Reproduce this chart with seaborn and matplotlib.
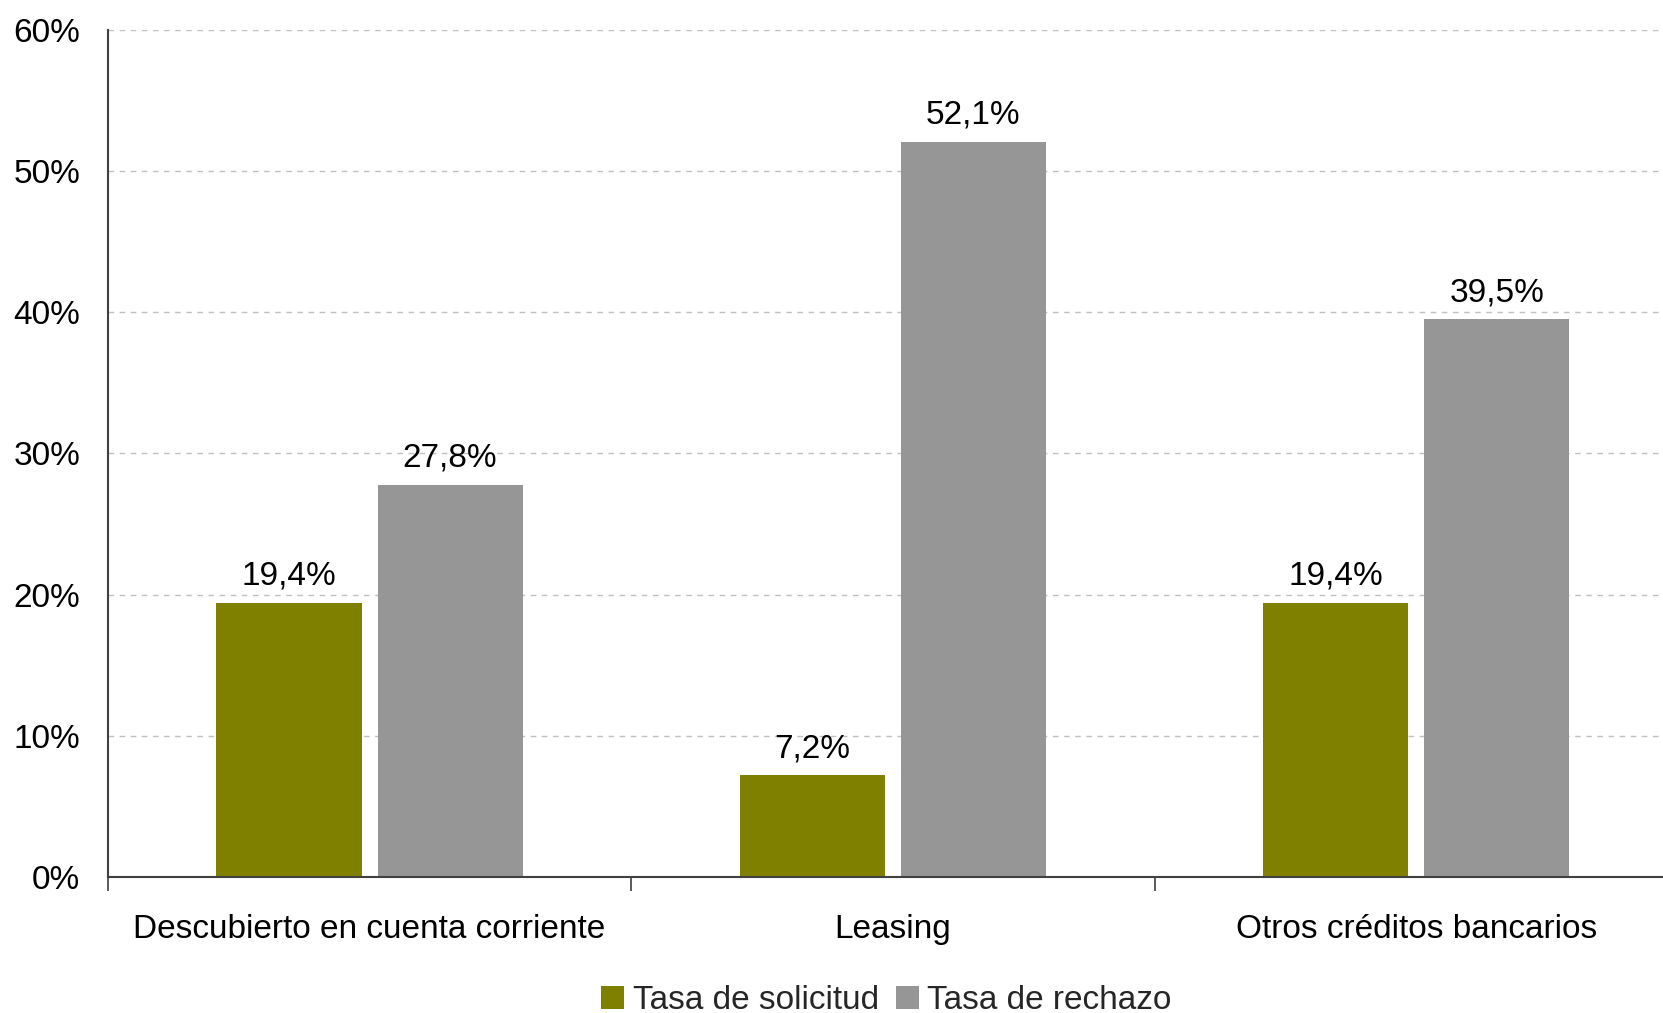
import matplotlib
matplotlib.use("Agg")
import matplotlib.pyplot as plt
import seaborn as sns
import pandas as pd
from matplotlib.ticker import FuncFormatter, FixedLocator

categories = ["Descubierto en cuenta corriente", "Leasing", "Otros créditos bancarios"]
series = ["Tasa de solicitud", "Tasa de rechazo"]
solicitud = [19.4, 7.2, 19.4]
rechazo = [27.8, 52.1, 39.5]
yticks = [0, 10, 20, 30, 40, 50, 60]

colors = ["#808000", "#969696"]

sns.set_theme(style="white")
plt.rcParams["font.family"] = ["Liberation Sans", "DejaVu Sans"]

df = pd.DataFrame({
    "cat": categories * 2,
    "serie": [series[0]] * 3 + [series[1]] * 3,
    "val": solicitud + rechazo,
})

fig = plt.figure(figsize=(16.63, 10.13), dpi=100)
ax = fig.add_axes([0.0649, 0.1343, 0.944, 0.8361])

sns.barplot(data=df, x="cat", y="val", hue="serie", order=categories,
            hue_order=series, palette=colors, width=0.616, gap=0.1,
            saturation=1, ax=ax, legend=True, linewidth=0)

ax.set_ylim(0, 60)
ax.set_xlim(-0.5, 2.5)
ax.set_yticks(yticks)
ax.yaxis.set_major_formatter(FuncFormatter(lambda v, p: f"{int(v)}%"))
ax.grid(axis="y", color="#c0c0c0", linestyle=(0, (4, 4)), linewidth=1.0)
ax.set_axisbelow(True)
for s in ["top", "right"]:
    ax.spines[s].set_visible(False)
for s in ["left", "bottom"]:
    ax.spines[s].set_color("#404040")
    ax.spines[s].set_linewidth(1.5)

ax.tick_params(axis="y", length=0, pad=20, labelsize=24, labelcolor="black")
ax.tick_params(axis="x", which="major", length=0, pad=27, labelsize=24, labelcolor="black")
ax.xaxis.set_minor_locator(FixedLocator([-0.5, 0.5, 1.5]))
ax.tick_params(axis="x", which="minor", bottom=True, length=10, width=1.2,
               color="#404040", direction="out")
ax.set_xlabel("")
ax.set_ylabel("")

for cont in ax.containers:
    labels = [f"{v:.1f}".replace(".", ",") + "%" for v in cont.datavalues]
    ax.bar_label(cont, labels=labels, padding=8, fontsize=24, color="black")

handles, labs = ax.get_legend_handles_labels()
ax.get_legend().remove()
fig.legend(handles, labs, loc="center", bbox_to_anchor=(0.533, 0.012), ncol=2,
           frameon=False, fontsize=24, handlelength=0.7, handleheight=0.7,
           handletextpad=0.25, columnspacing=0.5, borderaxespad=0)

fig.savefig("out.png", dpi=100)
